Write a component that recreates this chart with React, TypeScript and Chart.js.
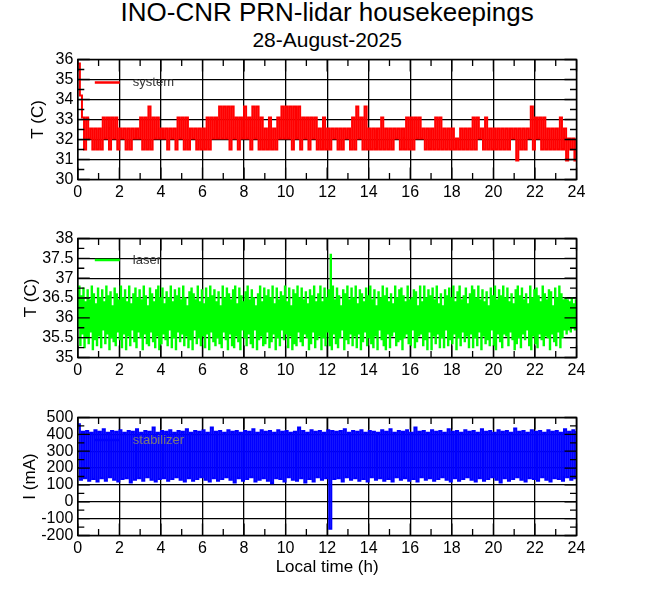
import { useEffect, useRef } from "react";
import { Chart, registerables } from "chart.js";

Chart.register(...registerables);

const FONT = "'Liberation Sans', Arial, Helvetica, sans-serif";

const TITLE = "INO-CNR PRN-lidar housekeepings";
const SUBTITLE = "28-August-2025";
const X_TITLE = "Local time (h)";

const HOUR_TICKS = [0, 2, 4, 6, 8, 10, 12, 14, 16, 18, 20, 22, 24];
const SYSTEM_TICKS = [30, 31, 32, 33, 34, 35, 36];
const LASER_TICKS = [35, 35.5, 36, 36.5, 37, 37.5, 38];
const STAB_TICKS = [-200, -100, 0, 100, 200, 300, 400, 500];

// system temperature (C), one sample every 6 minutes
const SYSTEM_T = [
  35.8, 34.2, 33.1, 31.5, 33.1, 32.05, 32.55, 31.5, 32.55, 31.5,
  32.55, 31.5, 33.1, 32.05, 33.1, 31.5, 33.1, 32.05, 33.1, 31.5,
  32.55, 32.05, 32.55, 31.5, 32.55, 31.5, 32.55, 32.05, 32.55, 32.05,
  33.1, 31.5, 33.1, 31.5, 33.65, 31.5, 33.1, 32.05, 33.1, 32.05,
  32.55, 32.05, 32.55, 31.5, 32.55, 32.05, 32.55, 31.5, 33.1, 32.05,
  33.1, 31.5, 33.1, 31.5, 32.55, 32.05, 32.55, 31.5, 32.55, 31.5,
  32.55, 31.5, 33.1, 31.5, 33.1, 32.05, 33.1, 32.05, 33.65, 32.05,
  33.65, 32.05, 33.65, 31.5, 33.65, 32.05, 33.1, 31.5, 33.1, 32.05,
  33.65, 32.05, 33.1, 31.5, 33.65, 32.05, 33.65, 31.5, 33.1, 31.5,
  32.55, 31.5, 33.1, 31.5, 32.55, 31.5, 33.1, 32.05, 33.65, 32.05,
  33.65, 32.05, 33.65, 31.5, 33.65, 32.05, 33.65, 31.5, 33.1, 32.05,
  33.1, 31.5, 33.1, 32.05, 33.1, 31.5, 32.55, 31.5, 33.1, 31.5,
  32.55, 31.5, 32.55, 32.05, 32.55, 31.5, 32.55, 31.5, 32.55, 32.05,
  32.55, 31.5, 33.1, 31.5, 33.65, 32.05, 33.1, 31.5, 33.65, 31.5,
  32.55, 31.5, 32.55, 31.5, 32.55, 31.5, 33.1, 31.5, 32.55, 31.5,
  32.55, 31.5, 32.55, 32.05, 32.55, 31.5, 32.55, 31.5, 33.1, 31.5,
  33.1, 31.5, 33.1, 32.05, 33.1, 32.05, 32.55, 31.5, 32.55, 31.5,
  32.55, 31.5, 33.1, 31.5, 33.1, 31.5, 32.55, 31.5, 32.55, 31.5,
  32.55, 31.5, 32.05, 31.5, 32.55, 31.5, 32.55, 31.5, 32.55, 31.5,
  33.1, 31.5, 33.1, 32.05, 32.55, 31.5, 33.1, 31.5, 32.55, 31.5,
  32.55, 31.5, 32.55, 31.5, 32.55, 31.5, 32.55, 31.5, 32.55, 32.05,
  32.55, 30.95, 32.55, 31.5, 32.55, 31.5, 32.55, 32.05, 33.65, 31.5,
  33.1, 32.05, 33.1, 31.5, 33.1, 31.5, 32.55, 31.5, 32.55, 31.5,
  32.55, 31.5, 33.1, 31.5, 32.55, 30.95, 32.05, 31.5, 32.05, 30.95, 32.05,
];

// laser temperature (C), one sample every 3 minutes
const LASER_T = [
  35.75, 36.8, 35.3, 36.55, 35.6, 36.75, 35.25, 36.4, 35.5, 36.7,
  35.35, 36.45, 35.65, 36.8, 35.2, 36.6, 35.45, 36.35, 35.3, 36.75,
  35.55, 36.5, 35.25, 36.7, 35.7, 36.4, 35.35, 36.8, 35.6, 36.55,
  35.2, 36.65, 35.5, 36.3, 35.4, 36.75, 35.3, 36.6, 35.65, 36.45,
  35.45, 36.8, 35.25, 36.5, 35.6, 36.7, 35.2, 36.4, 35.55, 36.8,
  35.3, 36.35, 35.7, 36.6, 35.4, 36.75, 35.25, 36.5, 35.65, 36.7,
  35.5, 36.45, 35.2, 36.8, 35.6, 36.55, 35.35, 36.3, 35.3, 36.75,
  35.65, 36.6, 35.4, 36.4, 35.25, 36.7, 35.55, 36.8, 35.2, 36.5,
  35.35, 36.75, 35.6, 36.35, 35.45, 36.65, 35.3, 36.5, 35.7, 36.8,
  35.25, 36.4, 35.5, 36.7, 35.2, 36.55, 35.65, 36.75, 35.4, 36.45,
  35.6, 36.8, 35.3, 36.5, 35.55, 36.3, 35.25, 36.65, 35.45, 36.75,
  35.2, 36.6, 35.7, 36.45, 35.35, 36.8, 35.5, 36.4, 35.3, 36.7,
  35.55, 36.35, 35.25, 36.75, 35.6, 36.5, 35.2, 36.8, 35.65, 36.55,
  35.4, 36.7, 35.3, 36.4, 35.5, 36.65, 35.35, 36.3, 35.25, 36.8,
  35.65, 36.5, 35.45, 36.75, 35.2, 36.6, 35.6, 36.45, 35.3, 36.7,
  35.25, 36.8, 35.55, 36.35, 35.4, 36.75, 35.2, 36.55, 35.7, 36.4,
  35.5, 36.65, 35.3, 36.8, 35.6, 36.45, 35.35, 36.7, 35.25, 36.5,
  35.7, 36.3, 35.2, 36.6, 35.45, 36.8, 35.55, 36.4, 35.3, 36.75,
  35.35, 36.55, 35.65, 36.7, 35.25, 36.5, 35.4, 36.8, 35.6, 36.35,
  35.2, 36.75, 35.5, 36.45, 35.3, 36.65, 35.7, 36.55, 35.45, 36.8,
  35.6, 36.4, 35.25, 36.75, 35.55, 36.3, 35.2, 36.7, 35.35, 36.6,
  35.3, 36.8, 35.65, 36.5, 35.4, 36.75, 35.3, 36.45, 35.6, 36.65,
  35.5, 36.35, 35.2, 36.7, 35.35, 36.55, 35.65, 36.8, 35.25, 36.4,
  35.45, 36.6, 35.55, 36.8, 35.2, 36.4, 35.5, 36.75, 35.3, 36.5,
  35.65, 36.7, 35.3, 37.6, 35.2, 36.8, 35.6, 36.45, 35.35, 36.75,
  35.25, 36.55, 35.5, 36.3, 35.7, 36.7, 35.2, 36.6, 35.45, 36.8,
  35.35, 36.45, 35.6, 36.75, 35.3, 36.5, 35.55, 36.8, 35.25, 36.35,
  35.6, 36.7, 35.2, 36.6, 35.4, 36.4, 35.65, 36.75, 35.3, 36.55,
  35.5, 36.8, 35.35, 36.45, 35.25, 36.7, 35.55, 36.3, 35.2, 36.65,
  35.7, 36.5, 35.45, 36.8, 35.3, 36.55, 35.2, 36.75, 35.6, 36.4,
  35.25, 36.6, 35.55, 36.35, 35.65, 36.8, 35.3, 36.5, 35.4, 36.7,
  35.45, 36.75, 35.2, 36.55, 35.5, 36.4, 35.6, 36.8, 35.35, 36.45,
  35.3, 36.5, 35.7, 36.7, 35.25, 36.65, 35.4, 36.3, 35.55, 36.8,
  35.6, 36.4, 35.3, 36.8, 35.45, 36.5, 35.2, 36.7, 35.65, 36.55,
  35.2, 36.75, 35.55, 36.45, 35.35, 36.8, 35.6, 36.35, 35.25, 36.6,
  35.5, 36.3, 35.25, 36.7, 35.7, 36.55, 35.3, 36.75, 35.45, 36.5,
  35.35, 36.8, 35.6, 36.4, 35.2, 36.65, 35.5, 36.8, 35.3, 36.45,
  35.65, 36.55, 35.4, 36.75, 35.55, 36.35, 35.25, 36.6, 35.6, 36.8,
  35.25, 36.7, 35.5, 36.5, 35.3, 36.8, 35.65, 36.45, 35.2, 36.7,
  35.55, 36.4, 35.35, 36.65, 35.45, 36.3, 35.3, 36.75, 35.7, 36.55,
  35.3, 36.8, 35.2, 36.45, 35.6, 36.7, 35.4, 36.55, 35.25, 36.8,
  35.6, 36.5, 35.55, 36.75, 35.3, 36.4, 35.65, 36.6, 35.45, 36.35,
  35.2, 36.7, 35.35, 36.8, 35.5, 36.55, 35.25, 36.75, 35.6, 36.45,
  35.45, 36.6, 35.7, 36.35, 35.3, 36.8, 35.2, 36.5, 35.55, 36.7,
  35.35, 36.75, 35.25, 36.55, 35.6, 36.4, 35.45, 36.8, 35.3, 36.6,
  35.55, 36.45, 35.5, 36.7, 35.2, 36.65, 35.6, 36.3, 35.4, 36.75,
  35.3, 36.5, 35.65, 36.8, 35.25, 36.6, 35.5, 36.45, 35.7, 36.5,
  35.6, 36.45, 35.7, 36.4, 35.65, 36.5, 35.75, 36.35, 35.7, 36.45,
  35.8,
];

// stabilizer current (mA), one sample every 6 minutes
const STABILIZER_I = [
  460, 130, 415, 140, 420, 125, 410, 135, 425, 120,
  415, 140, 430, 125, 410, 145, 420, 130, 415, 120,
  425, 135, 410, 140, 420, 115, 415, 130, 430, 140,
  410, 125, 420, 145, 415, 130, 440, 120, 410, 135,
  420, 140, 415, 125, 425, 135, 410, 145, 420, 130,
  415, 120, 430, 140, 410, 125, 420, 135, 415, 145,
  425, 130, 410, 120, 440, 140, 415, 125, 420, 135,
  410, 145, 425, 130, 415, 115, 420, 140, 410, 125,
  420, 135, 415, 145, 430, 120, 410, 130, 425, 140,
  415, 125, 420, 110, 410, 140, 425, 135, 415, 120,
  420, 145, 410, 130, 415, 125, 440, 140, 420, 115,
  410, 135, 425, 120, 415, 145, 420, 130, 410, 140,
  425, -160, 420, 135, 415, 140, 420, 120, 430, 145,
  410, 130, 420, 140, 415, 125, 425, 135, 410, 120,
  420, 145, 415, 130, 410, 140, 425, 125, 415, 135,
  430, 120, 410, 145, 420, 130, 415, 140, 425, 125,
  410, 135, 440, 120, 415, 145, 420, 130, 410, 140,
  425, 125, 415, 135, 420, 145, 410, 130, 430, 120,
  415, 140, 420, 125, 410, 135, 425, 145, 415, 130,
  420, 120, 410, 140, 430, 125, 415, 135, 420, 145,
  410, 130, 425, 115, 415, 140, 420, 125, 410, 135,
  435, 145, 415, 130, 420, 120, 410, 140, 425, 135,
  415, 125, 420, 145, 410, 130, 425, 120, 415, 140,
  420, 135, 410, 125, 430, 145, 415, 130, 425, 140, 420,
];

// sampling grid of a series evenly spread over 0-24 h
const sampleHours = (n: number) => Array.from({ length: n }, (_, i) => (24 * i) / (n - 1));

type Panel = {
  label: string;
  color: string;
  textColor: string;
  values: number[];
  ticks: number[];
  yTitle: string;
  canvasTop: number;
  canvasH: number;
  plotH: number;
  yTitleX: number;
  legendDy: number;
  xTitle: boolean;
  lineW: number;
};

const PLOT_LEFT = 77.8;
const PLOT_RIGHT = 576.5;
const PAD_TOP = 19.5;

const PANELS: Panel[] = [
  { label: "system", color: "#ff0000", textColor: "#333", values: SYSTEM_T, ticks: SYSTEM_TICKS, yTitle: "T (C)", canvasTop: 40, canvasH: 170, plotH: 120, yTitleX: 38.5, legendDy: 23, xTitle: false, lineW: 2 },
  { label: "laser", color: "#00ff00", textColor: "#333", values: LASER_T, ticks: LASER_TICKS, yTitle: "T (C)", canvasTop: 219, canvasH: 170, plotH: 119, yTitleX: 31, legendDy: 21.5, xTitle: false, lineW: 1.4 },
  { label: "stabilizer", color: "#0000ff", textColor: "#7a7a7a", values: STABILIZER_I, ticks: STAB_TICKS, yTitle: "I (mA)", canvasTop: 398, canvasH: 197, plotH: 118, yTitleX: 30, legendDy: 22.5, xTitle: true, lineW: 2 },
];

function framePlugin(p: Panel) {
  return {
    id: "frame_" + p.label,
    afterDatasetsDraw(chart: any) {
      const { ctx, chartArea: a } = chart;
      const xs = chart.scales.x;
      const ys = chart.scales.y;
      ctx.save();
      ctx.strokeStyle = "#000";
      ctx.lineWidth = 1.3;
      ctx.beginPath();
      HOUR_TICKS.forEach((v, i) => {
        const x = xs.getPixelForValue(v);
        ctx.moveTo(x, a.bottom); ctx.lineTo(x, a.bottom - 12);
        ctx.moveTo(x, a.top); ctx.lineTo(x, a.top + 12);
        if (i < HOUR_TICKS.length - 1) {
          const xm = xs.getPixelForValue((v + HOUR_TICKS[i + 1]) / 2);
          ctx.moveTo(xm, a.bottom); ctx.lineTo(xm, a.bottom - 6.5);
          ctx.moveTo(xm, a.top); ctx.lineTo(xm, a.top + 6.5);
        }
      });
      p.ticks.forEach((v, i) => {
        const y = ys.getPixelForValue(v);
        ctx.moveTo(a.left, y); ctx.lineTo(a.left + 12, y);
        ctx.moveTo(a.right, y); ctx.lineTo(a.right - 12, y);
        if (i < p.ticks.length - 1) {
          const ym = ys.getPixelForValue((v + p.ticks[i + 1]) / 2);
          ctx.moveTo(a.left, ym); ctx.lineTo(a.left + 6.5, ym);
          ctx.moveTo(a.right, ym); ctx.lineTo(a.right - 6.5, ym);
        }
      });
      ctx.stroke();
      ctx.lineWidth = 1.5;
      ctx.strokeRect(a.left, a.top, a.right - a.left, a.bottom - a.top);
      const ly = a.top + p.legendDy;
      ctx.strokeStyle = p.color;
      ctx.lineWidth = 2.5;
      ctx.beginPath();
      ctx.moveTo(a.left + 17, ly);
      ctx.lineTo(a.left + 42, ly);
      ctx.stroke();
      ctx.fillStyle = p.textColor;
      ctx.font = `13px ${FONT}`;
      ctx.textBaseline = "middle";
      ctx.textAlign = "left";
      ctx.fillText(p.label, a.left + 55, ly);
      ctx.restore();
    },
  };
}

function PanelChart({ p }: { p: Panel }) {
  const ref = useRef<HTMLCanvasElement>(null);
  useEffect(() => {
    const xHeight = p.canvasH - PAD_TOP - p.plotH;
    const hours = sampleHours(p.values.length);
    const chart = new Chart(ref.current as HTMLCanvasElement, {
      type: "line",
      data: {
        datasets: [
          {
            label: p.label,
            data: p.values.map((y, i) => ({ x: hours[i], y })),
            borderColor: p.color,
            backgroundColor: p.color,
            borderWidth: p.lineW,
            pointRadius: 0,
            stepped: true,
            fill: false,
          },
        ],
      },
      options: {
        responsive: false,
        animation: false,
        events: [],
        layout: { padding: { top: PAD_TOP, right: 660 - PLOT_RIGHT, left: 0, bottom: 0 } },
        plugins: {
          legend: { display: false },
          tooltip: { enabled: false },
          title: { display: false },
        },
        scales: {
          x: {
            type: "linear",
            min: HOUR_TICKS[0],
            max: HOUR_TICKS[HOUR_TICKS.length - 1],
            afterBuildTicks: (s: any) => {
              s.ticks = HOUR_TICKS.map((v) => ({ value: v }));
            },
            afterFit: (s: any) => {
              s.height = xHeight;
            },
            grid: { color: "#000", lineWidth: 1.3, drawTicks: false },
            border: { display: false },
            ticks: {
              color: "#000",
              font: { size: 16, family: FONT },
              padding: 3,
              maxRotation: 0,
              autoSkip: false,
              callback: (v: any) => String(v),
            },
            title: p.xTitle
              ? { display: true, text: X_TITLE, color: "#000", font: { size: 17, family: FONT }, padding: { top: 0, bottom: 17.8 } }
              : { display: false },
          },
          y: {
            type: "linear",
            min: p.ticks[0],
            max: p.ticks[p.ticks.length - 1],
            afterBuildTicks: (s: any) => {
              s.ticks = p.ticks.map((v) => ({ value: v }));
            },
            afterFit: (s: any) => {
              s.width = PLOT_LEFT;
            },
            grid: { color: "#000", lineWidth: 1.3, drawTicks: false },
            border: { display: false },
            ticks: {
              color: "#000",
              font: { size: 16, family: FONT },
              padding: 4.5,
              autoSkip: false,
              callback: (v: any) => String(v),
            },
            title: {
              display: true,
              text: p.yTitle,
              color: "#000",
              font: { size: 17, family: FONT },
              padding: { top: p.yTitleX - 10.2, bottom: 0 },
            },
          },
        },
      } as any,
      plugins: [framePlugin(p)],
    });
    return () => chart.destroy();
  }, [p]);
  return (
    <canvas
      ref={ref}
      width={660}
      height={p.canvasH}
      style={{ position: "absolute", left: 0, top: p.canvasTop, width: 660, height: p.canvasH }}
    />
  );
}

export default function App() {
  return (
    <div
      style={{
        position: "fixed",
        left: 0,
        top: 0,
        width: 660,
        height: 595,
        background: "#fff",
        overflow: "hidden",
        fontFamily: FONT,
        color: "#000",
      }}
    >
      <div
        style={{
          position: "absolute",
          left: PLOT_LEFT,
          width: PLOT_RIGHT - PLOT_LEFT,
          top: -1,
          textAlign: "center",
          fontSize: 26,
          lineHeight: "26px",
          whiteSpace: "nowrap",
        }}
      >
        {TITLE}
      </div>
      <div
        style={{
          position: "absolute",
          left: PLOT_LEFT,
          width: PLOT_RIGHT - PLOT_LEFT,
          top: 29,
          textAlign: "center",
          fontSize: 21,
          lineHeight: "21px",
          whiteSpace: "nowrap",
        }}
      >
        {SUBTITLE}
      </div>
      {PANELS.map((p) => (
        <PanelChart key={p.label} p={p} />
      ))}
    </div>
  );
}
